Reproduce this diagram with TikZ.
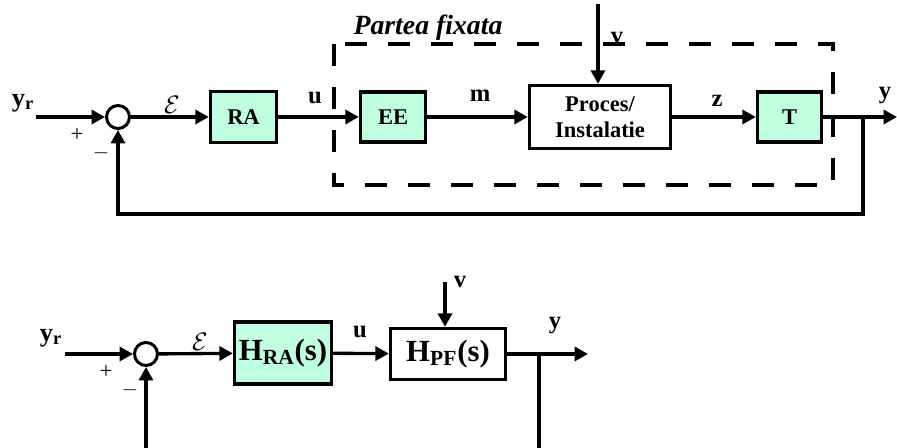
\documentclass[tikz,border=0pt]{standalone}
\usepackage{fontspec}
\setmainfont{Liberation Serif}
\usetikzlibrary{arrows.meta, positioning, calc}
\definecolor{mint}{RGB}{191,255,223}
\tikzset{
  blk/.style={rectangle, draw, line width=1.9pt, inner sep=0pt,
              align=center, font=\fontsize{12.8}{14.5}\selectfont\bfseries},
  ctrl/.style={blk, fill=mint},
  tf/.style={font=\fontsize{17.5}{20}\selectfont\bfseries},
  sumnode/.style={circle, draw, line width=1.7pt, minimum size=0.46cm,
                  inner sep=0pt},
  sig/.style={-{Triangle[length=0.27cm,width=0.28cm]}, line width=1.9pt},
  wire/.style={line width=1.9pt},
  lbl/.style={inner sep=0pt, font=\fontsize{14}{16}\selectfont\bfseries},
  sgn/.style={inner sep=0pt, font=\fontsize{13}{15}\selectfont},
  eps/.style={inner sep=0pt, font=\fontsize{15}{17}\selectfont},
  fixed/.style={line width=1.9pt, dash pattern=on 0.44cm off 0.42cm},
}

\begin{document}
\begin{tikzpicture}[x=0.02cm, y=-0.02cm]
  \useasboundingbox (0,0) rectangle (897,448);

  % upper loop: detailed structure
  \node[sumnode] (sum) at (118,117) {};
  \node[ctrl, minimum width=1.32cm, minimum height=1.02cm] (ra) at (243.5,117) {RA};
  \node[ctrl, minimum width=1.30cm, minimum height=1.00cm] (ee) at (393,117) {EE};
  \node[blk, minimum width=2.82cm, minimum height=1.26cm] (proc) at (600,117) {Proces/\\Instalatie};
  \node[ctrl, minimum width=1.28cm, minimum height=1.00cm] (t) at (789.5,117) {T};

  \coordinate (yin) at (36,117);
  \coordinate (yout) at (897,117);
  \coordinate (br) at (863,117);
  \coordinate (fb) at (863,214);
  \coordinate (vin) at (598,4);
  \coordinate (pfa) at (334,44);
  \coordinate (pfb) at (833,185);

  \draw[fixed] (pfa) rectangle (pfb);
  \node[inner sep=0pt, font=\fontsize{15.8}{18}\selectfont\bfseries\itshape] (pflbl) at (428,28) {Partea fixata};

  \draw[sig] (yin) -- (sum);
  \draw[sig] (sum) -- (ra);
  \draw[sig] (ra) -- (ee);
  \draw[sig] (ee) -- (proc);
  \draw[sig] (proc) -- (t);
  \draw[sig] (t) -- (yout);
  \draw[sig] (br) -- (fb) -| (sum);
  \draw[sig] (vin) -- (vin |- proc.north);

  \node[lbl, font=\fontsize{15}{17}\selectfont\bfseries] (yrlbl) at (23,103) {y\textsubscript{r}};
  \node[sgn] (plus) at (77,135) {+};
  \node[sgn] (minus) at (101,153) {$-$};
  \node[eps] (elbl) at (172,105) {$\mathcal{E}$};
  \node[lbl] (ulbl) at (315,98) {u};
  \node[lbl] (mlbl) at (480,96) {m};
  \node[lbl] (zlbl) at (717,101) {z};
  \node[lbl] (ylbl) at (885,96) {y};
  \node[lbl] (vlbl) at (617,38) {v};

  % lower loop: transfer functions
  \node[sumnode] (sum2) at (146,354) {};
  \node[ctrl, tf, minimum width=1.94cm, minimum height=1.24cm] (hra) at (283,353) {H\textsubscript{RA}(s)};
  \node[blk, tf, minimum width=2.30cm, minimum height=1.02cm] (hpf) at (448,354) {H\textsubscript{PF}(s)};

  \coordinate (yin2) at (65,354);
  \coordinate (yout2) at (588,354);
  \coordinate (br2) at (539,354);
  \coordinate (fb2) at (539,448);
  \coordinate (fb1) at (146,448);
  \coordinate (vin2) at (445,282);

  \draw[sig] (yin2) -- (sum2);
  \draw[sig] (sum2) -- (hra);
  \draw[sig] (hra) -- (hpf);
  \draw[sig] (hpf) -- (yout2);
  \draw[wire] (br2) -- (fb2);
  \draw[sig] (fb1) -- (sum2);
  \draw[sig] (vin2) -- (vin2 |- hpf.north);

  \node[lbl, font=\fontsize{15}{17}\selectfont\bfseries] (yrlbl2) at (51,338) {y\textsubscript{r}};
  \node[sgn] (plus2) at (106,372) {+};
  \node[sgn] (minus2) at (130,390) {$-$};
  \node[eps] (elbl2) at (200,342) {$\mathcal{E}$};
  \node[lbl] (ulbl2) at (360,332) {u};
  \node[lbl] (vlbl2) at (460,282) {v};
  \node[lbl] (ylbl2) at (555,326) {y};
\end{tikzpicture}
\end{document}
